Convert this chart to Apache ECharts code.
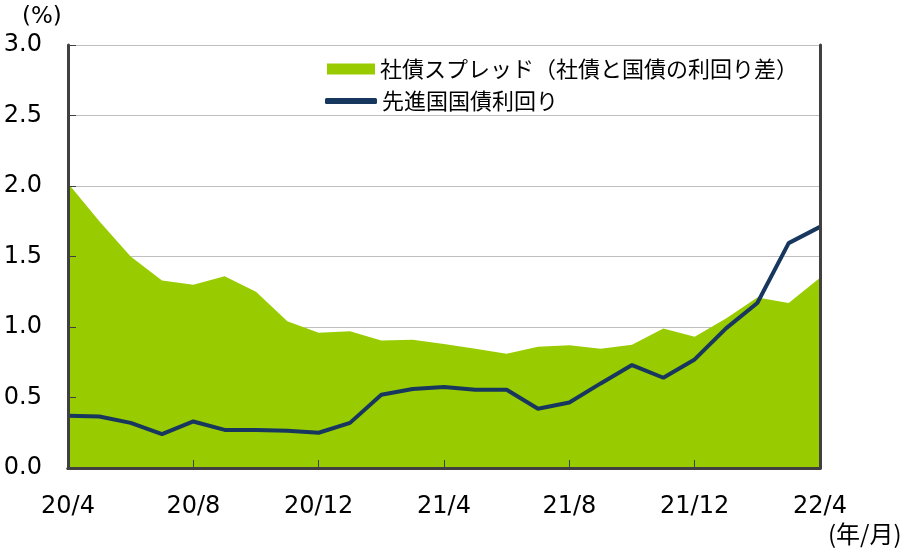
<!DOCTYPE html>
<html>
<head>
<meta charset="utf-8">
<script src="https://cdn.jsdelivr.net/npm/echarts@6/dist/echarts.min.js"></script>
<style>
  html, body { margin: 0; padding: 0; background: #fff; }
  #chart { width: 918px; height: 554px; }
</style>
</head>
<body>
<div id="chart"></div>
<script>
// months 20/4 .. 22/4
let months = ['20/4', '20/5', '20/6', '20/7', '20/8', '20/9', '20/10', '20/11', '20/12',
    '21/1', '21/2', '21/3', '21/4', '21/5', '21/6', '21/7', '21/8', '21/9', '21/10', '21/11', '21/12',
    '22/1', '22/2', '22/3', '22/4']

// 社債スプレッド (%)
let spread = [2.02, 1.75, 1.50, 1.33, 1.30, 1.36, 1.25, 1.04, 0.96,
    0.97, 0.905, 0.91, 0.88, 0.845, 0.81, 0.86, 0.87, 0.845, 0.875, 0.99, 0.93,
    1.06, 1.21, 1.17, 1.35]

// 先進国国債利回り (%)
let govYield = [0.37, 0.365, 0.32, 0.24, 0.33, 0.27, 0.27, 0.265, 0.25,
    0.32, 0.52, 0.56, 0.575, 0.555, 0.555, 0.42, 0.465, 0.60, 0.73, 0.64, 0.77,
    0.99, 1.17, 1.595, 1.71]

let yTicks = [0, 3, 0.5]   // min, max, step

let spreadName = '社債スプレッド（社債と国債の利回り差）'
let yieldName = '先進国国債利回り'

let numFont = '"DejaVu Sans", Verdana, sans-serif'
let jpFont = '"Noto Sans CJK JP", sans-serif'
let borderColor = '#404040'

let chart = echarts.init(document.getElementById('chart'));

// value axis shared settings
function valueAxis(extra) {
    return Object.assign({
        type: 'value',
        min: yTicks[0], max: yTicks[1], interval: yTicks[2],
        axisLine: { show: false },
        axisTick: { show: false },
        axisLabel: { show: false },
        splitLine: { show: false }
    }, extra)
}

let option = {
    animation: false,
    grid: { left: 68, right: 98, top: 45, bottom: 86 },
    legend: [
        {
            data: [{ name: spreadName, icon: 'rect' }],
            left: 327, top: 58, padding: 0,
            itemWidth: 48, itemHeight: 11, itemGap: 0,
            textStyle: { fontFamily: jpFont, fontSize: 22, color: '#000' },
            selectedMode: false
        },
        {
            data: [{ name: yieldName, icon: 'roundRect' }],
            left: 325, top: 90, padding: 0,
            itemWidth: 52, itemHeight: 6, itemGap: 0,
            textStyle: { fontFamily: jpFont, fontSize: 22, color: '#000' },
            selectedMode: false
        }
    ],
    xAxis: [
        {
            type: 'category',
            data: months,
            boundaryGap: false,
            z: 5,
            axisLine: { lineStyle: { color: borderColor, width: 3 } },
            axisTick: { inside: true, length: 8, interval: 3, lineStyle: { color: borderColor, width: 1 } },
            axisLabel: { interval: 3, margin: 27, fontFamily: numFont, fontSize: 24, color: '#000' },
            splitLine: { show: false }
        },
        {
            type: 'category',
            data: months,
            boundaryGap: false,
            position: 'top',
            z: 5,
            axisLine: { lineStyle: { color: borderColor, width: 3 } },
            axisTick: { show: false },
            axisLabel: { show: false }
        }
    ],
    yAxis: [
        // gridlines, behind the area
        valueAxis({
            position: 'left', z: 0,
            splitLine: { show: true, lineStyle: { color: '#bfbfbf', width: 1 } }
        }),
        // left border, ticks, labels
        valueAxis({
            position: 'left', z: 5,
            axisLine: { show: true, lineStyle: { color: borderColor, width: 3 } },
            axisTick: { show: true, inside: true, length: 8, lineStyle: { color: borderColor, width: 1 } },
            axisLabel: {
                show: true, margin: 26, fontFamily: numFont, fontSize: 24, color: '#000',
                formatter: function (v) { return v.toFixed(1) }
            }
        }),
        // right border
        valueAxis({
            position: 'right', z: 5,
            axisLine: { show: true, lineStyle: { color: borderColor, width: 3 } }
        })
    ],
    series: [
        {
            name: spreadName,
            type: 'line',
            data: spread,
            showSymbol: false,
            color: '#99cc00',
            lineStyle: { width: 0 },
            areaStyle: { color: '#99cc00', opacity: 1 },
            z: 2
        },
        {
            name: yieldName,
            type: 'line',
            data: govYield,
            showSymbol: false,
            color: '#17375e',
            lineStyle: { color: '#17375e', width: 4 },
            z: 3
        }
    ],
    graphic: [
        {
            type: 'text', left: 22, top: 6,
            style: { text: '(%)', font: '23px ' + numFont, fill: '#000' }
        },
        {
            type: 'text', left: 828, top: 522,
            style: { text: '(年/月)', font: '24px ' + jpFont, fill: '#000' }
        }
    ]
};

chart.setOption(option);
</script>
</body>
</html>
